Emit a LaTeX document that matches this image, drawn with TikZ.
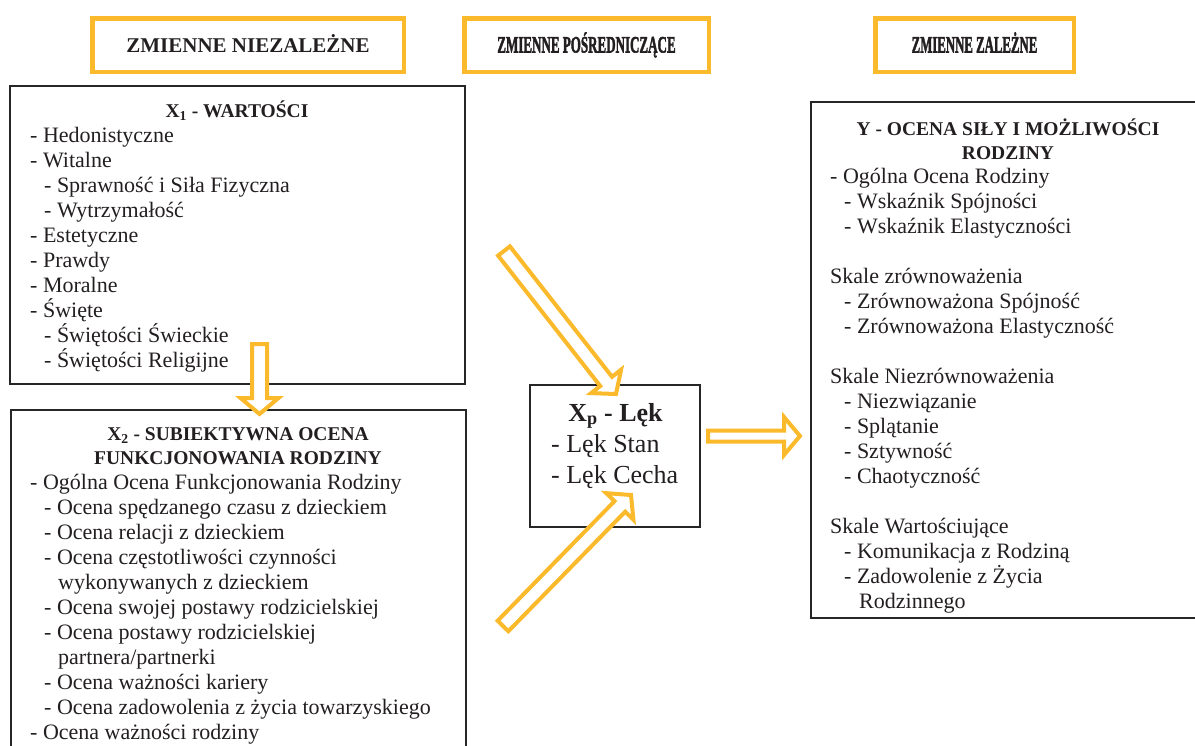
\documentclass[tikz,border=0pt]{standalone}
\usepackage{fontspec}
\setmainfont{Liberation Serif}
\newfontfamily\waski{Liberation Serif}[BoldFeatures={FakeBold=2.5}]
\usetikzlibrary{calc}
\definecolor{zolty}{RGB}{251,186,44}
\definecolor{tekst}{RGB}{35,31,32}

% pusta (biala) strzalka blokowa: [pol szerokosci trzonu]{poczatek}{grot}
\newcommand{\blokstrzalka}[3][7pt]{%
  \coordinate (bs) at ($(#3)!16pt!(#2)$);
  \draw[strzalka] ($(#2)!#1!90:(#3)$) -- ($(bs)!#1!-90:(#2)$) -- ($(bs)!19pt!-90:(#2)$) -- (#3)
    -- ($(bs)!19pt!90:(#2)$) -- ($(bs)!#1!90:(#2)$) -- ($(#2)!#1!-90:(#3)$) -- cycle;}

\begin{document}
\begin{tikzpicture}[x=1pt, y=-1pt, tekst,
  naglowek/.style={draw=zolty, line width=4.5pt, fill=white, inner sep=0pt,
    minimum height=53.5pt, text height=15pt, text depth=0pt,
    font=\fontsize{21}{25}\selectfont\bfseries},
  ramka/.style={draw=black!85, line width=1.2pt, inner sep=0pt},
  tytul/.style={anchor=north, inner sep=0pt, align=center,
    font=\fontsize{19.5}{24}\selectfont\bfseries},
  lista/.style={anchor=north west, inner sep=0pt, align=left,
    font=\fontsize{22}{25}\selectfont},
  strzalka/.style={draw=zolty, line width=4pt, fill=white, line join=miter}]
\useasboundingbox (0,0) rectangle (1195,745);
\clip (0,0) rectangle (1195,745);

% naglowki
\node[naglowek, minimum width=311.5pt] (niezal) at (248,45) {ZMIENNE NIEZALEŻNE};
\node[naglowek, minimum width=244.5pt] (posr) at (586.5,45) {\waski\bfseries\scalebox{0.62}[1.12]{ZMIENNE POŚREDNICZĄCE}};
\node[naglowek, minimum width=198.5pt] (zal) at (974.5,45) {\waski\bfseries\scalebox{0.61}[1.12]{ZMIENNE ZALEŻNE}};

% ramki
\node[ramka, minimum width=455pt, minimum height=298pt] (wart) at (237.5,235) {};
\node[ramka, minimum width=455pt, minimum height=360pt] (subiekt) at (238.5,590) {};
\node[ramka, minimum width=170pt, minimum height=142pt] (lek) at (615,456) {};
\node[ramka, minimum width=394pt, minimum height=516pt] (ocena) at (1008,360) {};

% X1
\node[tytul] (wart-t) at (237,100.2) {\strut X\textsubscript{1} - WARTOŚCI};
\node[lista] (wart-l) at (30,124.5) {\strut- Hedonistyczne\\
- Witalne\\
\hspace*{14pt}- Sprawność i Siła Fizyczna\\
\hspace*{14pt}- Wytrzymałość\\
- Estetyczne\\
- Prawdy\\
- Moralne\\
- Święte\\
\hspace*{14pt}- Świętości Świeckie\\
\hspace*{14pt}- Świętości Religijne};

% X2
\node[tytul] (subiekt-t) at (238,423.2) {\strut X\textsubscript{2} - SUBIEKTYWNA OCENA\\FUNKCJONOWANIA RODZINY};
\node[lista] (subiekt-l) at (30,471.5) {\strut- Ogólna Ocena Funkcjonowania Rodziny\\
\hspace*{14pt}- Ocena spędzanego czasu z dzieckiem\\
\hspace*{14pt}- Ocena relacji z dzieckiem\\
\hspace*{14pt}- Ocena częstotliwości czynności\\
\hspace*{28pt}wykonywanych z dzieckiem\\
\hspace*{14pt}- Ocena swojej postawy rodzicielskiej\\
\hspace*{14pt}- Ocena postawy rodzicielskiej\\
\hspace*{28pt}partnera/partnerki\\
\hspace*{14pt}- Ocena ważności kariery\\
\hspace*{14pt}- Ocena zadowolenia z życia towarzyskiego\\
- Ocena ważności rodziny};

% Xp
\node[tytul, font=\fontsize{26}{31}\selectfont\bfseries] (lek-t) at (615.5,399.3) {\strut X\textsubscript{p} - Lęk};
\node[lista, font=\fontsize{26}{31}\selectfont] (lek-l) at (551,430.3) {\strut- Lęk Stan\\- Lęk Cecha};

% Y
\node[tytul] (ocena-t) at (1008,118.2) {\strut Y - OCENA SIŁY I MOŻLIWOŚCI\\RODZINY};
\node[lista] (ocena-l) at (830,166) {\strut- Ogólna Ocena Rodziny\\
\hspace*{14pt}- Wskaźnik Spójności\\
\hspace*{14pt}- Wskaźnik Elastyczności\\[25pt]
Skale zrównoważenia\\
\hspace*{14pt}- Zrównoważona Spójność\\
\hspace*{14pt}- Zrównoważona Elastyczność\\[25pt]
Skale Niezrównoważenia\\
\hspace*{14pt}- Niezwiązanie\\
\hspace*{14pt}- Splątanie\\
\hspace*{14pt}- Sztywność\\
\hspace*{14pt}- Chaotyczność\\[25pt]
Skale Wartościujące\\
\hspace*{14pt}- Komunikacja z Rodziną\\
\hspace*{14pt}- Zadowolenie z Życia\\
\hspace*{29pt}Rodzinnego};

% strzalki
\coordinate (s1a) at (259.5,344);
\coordinate (s1b) at (259.5,414);
\coordinate (s2a) at (504,251);
\coordinate (s2b) at (616,394);
\coordinate (s3a) at (503,626);
\coordinate (s3b) at (631,495);
\coordinate (s4a) at (708,436);
\coordinate (s4b) at (800,436);
\blokstrzalka[7.5pt]{s1a}{s1b}
\blokstrzalka[7.5pt]{s2a}{s2b}
\blokstrzalka[7.5pt]{s3a}{s3b}
\blokstrzalka[5.5pt]{s4a}{s4b}
\end{tikzpicture}
\end{document}
